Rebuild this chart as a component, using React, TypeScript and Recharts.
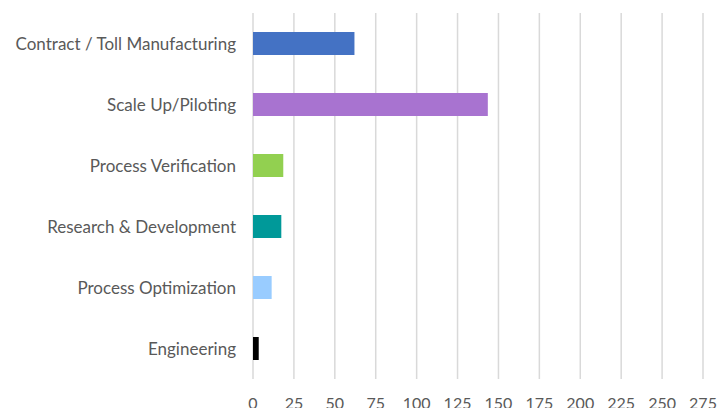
import React from 'react';
import { BarChart, Bar, Cell, XAxis, YAxis, CartesianGrid } from 'recharts';

// Categorias (de cima para baixo)
const categories = [
  'Contract / Toll Manufacturing',
  'Scale Up/Piloting',
  'Process Verification',
  'Research & Development',
  'Process Optimization',
  'Engineering',
];

const values = [62, 143.5, 18.5, 17.3, 11.4, 3.5];

const xTicks = [0, 25, 50, 75, 100, 125, 150, 175, 200, 225, 250, 275];

const barColors = ['#4472c4', '#a873d0', '#92d050', '#009999', '#99ccff', '#000000'];

const data = categories.map((name, i) => ({ name, value: values[i] }));

export default function App() {
  return (
    <div style={{ position: 'absolute', left: 0, top: 0, fontFamily: 'Lato, sans-serif', background: '#fff' }}>
      <BarChart
        width={721}
        height={408}
        data={data}
        layout="vertical"
        margin={{ top: 13, right: 18, left: 0, bottom: 0 }}
      >
        <CartesianGrid horizontal={false} stroke="#d9d9d9" strokeWidth={1.5} />
        <XAxis
          type="number"
          domain={[0, 275]}
          ticks={xTicks}
          interval={0}
          height={29}
          axisLine={false}
          tickLine={false}
          tickSize={0}
          tickMargin={19}
          tick={{ fill: '#595959', fontSize: 16 }}
        />
        <YAxis
          type="category"
          dataKey="name"
          width={253}
          axisLine={false}
          tickLine={false}
          tickSize={0}
          tickMargin={17}
          interval={0}
          tick={{ fill: '#595959', fontSize: 17 }}
        />
        <Bar dataKey="value" barSize={23} isAnimationActive={false}>
          {data.map((entry, index) => (
            <Cell key={`cell-${index}`} fill={barColors[index]} />
          ))}
        </Bar>
      </BarChart>
    </div>
  );
}
